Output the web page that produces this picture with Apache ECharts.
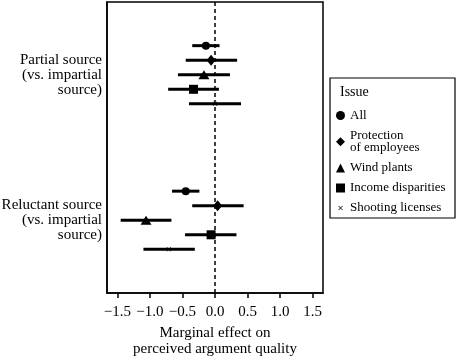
<!DOCTYPE html>
<html>
<head>
<meta charset="utf-8">
<script src="https://cdn.jsdelivr.net/npm/echarts@6/dist/echarts.min.js"></script>
<style>
  html, body { margin: 0; padding: 0; background: #fff; }
  #main { width: 457px; height: 358px; }
</style>
</head>
<body>
<div id="main"></div>
<script>
// comparisons (y axis groups)
var groups = ['Partial source\n(vs. impartial\nsource)', 'Reluctant source\n(vs. impartial\nsource)'];
// issues (legend)
var issues = ['All', 'Protection\nof employees', 'Wind plants', 'Income disparities', 'Shooting licenses'];
// point estimates and 95% intervals, one value per issue
var estPartial   = [-0.14, -0.06, -0.17, -0.33, 0.00];
var lowPartial   = [-0.35, -0.45, -0.57, -0.72, -0.40];
var highPartial  = [ 0.07,  0.34,  0.23,  0.06,  0.40];
var estReluctant  = [-0.45,  0.04, -1.06, -0.06, -0.71];
var lowReluctant  = [-0.66, -0.35, -1.45, -0.46, -1.10];
var highReluctant = [-0.24,  0.44, -0.67,  0.33, -0.31];
var xTicks = [-1.5, -1.0, -0.5, 0.0, 0.5, 1.0, 1.5];

var FONT = 'Liberation Serif';
// small x inside a larger (empty) box so it draws smaller than the other symbols
var xSymbol = 'path://M0,0 M20,20 M6,5 L10,9 L14,5 L15,6 L11,10 L15,14 L14,15 L10,11 L6,15 L5,14 L9,10 L5,6 Z';
var symbols = ['circle', 'diamond', 'triangle', 'rect', xSymbol];
var sizes = [8, [9, 11], [11, 9], 9, 9];

var est = [estPartial, estReluctant];
var low = [lowPartial, lowReluctant];
var high = [highPartial, highReluctant];

// row position inside the hidden value axis: group centre +/- issue offset
function rowPos(g, i) { return g * 10 + 5 + (i - 2); }

var barData = [];
for (var g = 0; g < groups.length; g++) {
  for (var i = 0; i < issues.length; i++) {
    barData.push([low[g][i], high[g][i], rowPos(g, i)]);
  }
}

var series = [{
  type: 'custom',
  xAxisIndex: 0,
  yAxisIndex: 1,
  silent: true,
  z: 2,
  data: barData,
  renderItem: function (params, api) {
    var a = api.coord([api.value(0), api.value(2)]);
    var b = api.coord([api.value(1), api.value(2)]);
    return {
      type: 'line',
      shape: { x1: a[0], y1: a[1], x2: b[0], y2: b[1] },
      style: { stroke: '#000', lineWidth: 3 }
    };
  },
  markLine: {
    silent: true,
    symbol: 'none',
    label: { show: false },
    lineStyle: { color: '#000', type: [4, 3], width: 1.5 },
    data: [{ xAxis: 0 }]
  }
}];

for (var i = 0; i < issues.length; i++) {
  var pts = [];
  for (var g = 0; g < groups.length; g++) {
    pts.push([est[g][i], rowPos(g, i)]);
  }
  series.push({
    name: issues[i],
    type: 'scatter',
    xAxisIndex: 0,
    yAxisIndex: 1,
    symbol: symbols[i],
    symbolSize: sizes[i],
    itemStyle: { color: '#000', opacity: 1 },
    z: 3,
    data: pts
  });
}

var myChart = echarts.init(document.getElementById('main'));
var option = {
  backgroundColor: '#fff',
  animation: false,
  textStyle: { fontFamily: FONT },
  grid: {
    left: 107, right: 134, top: 2, bottom: 65,
    outerBoundsMode: 'none',
    containLabel: false,
    show: true, borderColor: '#000', borderWidth: 1.5
  },
  xAxis: [{
    type: 'value',
    position: 'bottom',
    min: -1.66,
    max: 1.66,
    name: 'Marginal effect on\nperceived argument quality',
    nameLocation: 'middle',
    nameGap: 31,
    nameTextStyle: { fontFamily: FONT, fontSize: 15, color: '#000', lineHeight: 16 },
    axisLine: { show: true, onZero: false, lineStyle: { color: '#000', width: 1.5 } },
    axisTick: { show: true, inside: false, length: 5, customValues: xTicks, lineStyle: { color: '#000', width: 1.5 } },
    axisLabel: {
      customValues: xTicks,
      margin: 12,
      fontFamily: FONT, fontSize: 15, color: '#000',
      formatter: function (v) { return v.toFixed(1).replace('-', '\u2212'); }
    },
    splitLine: { show: false }
  }],
  yAxis: [{
    type: 'category',
    data: groups,
    inverse: true,
    axisLine: { show: true, onZero: false, lineStyle: { color: '#000', width: 1.5 } },
    axisTick: { show: false },
    axisLabel: {
      margin: 5,
      align: 'right',
      fontFamily: FONT, fontSize: 15, lineHeight: 15, color: '#000'
    },
    splitLine: { show: false }
  }, {
    type: 'value',
    min: 0,
    max: 20,
    inverse: true,
    show: false,
    splitLine: { show: false }
  }],
  legend: {
    data: issues,
    orient: 'vertical',
    left: 336,
    top: 109,
    padding: 0,
    itemWidth: 9,
    itemHeight: 9,
    itemGap: 7,
    selectedMode: false,
    textStyle: { fontFamily: FONT, fontSize: 13, lineHeight: 12.5, color: '#000' }
  },
  graphic: [{
    type: 'rect',
    shape: { x: 330, y: 78, width: 125, height: 140 },
    style: { fill: 'none', stroke: '#000', lineWidth: 1.2 },
    z: 0
  }, {
    type: 'text',
    left: 340,
    top: 85,
    style: { text: 'Issue', fontFamily: FONT, fontSize: 14, fill: '#000' }
  }],
  series: series
};
myChart.setOption(option);
</script>
</body>
</html>
